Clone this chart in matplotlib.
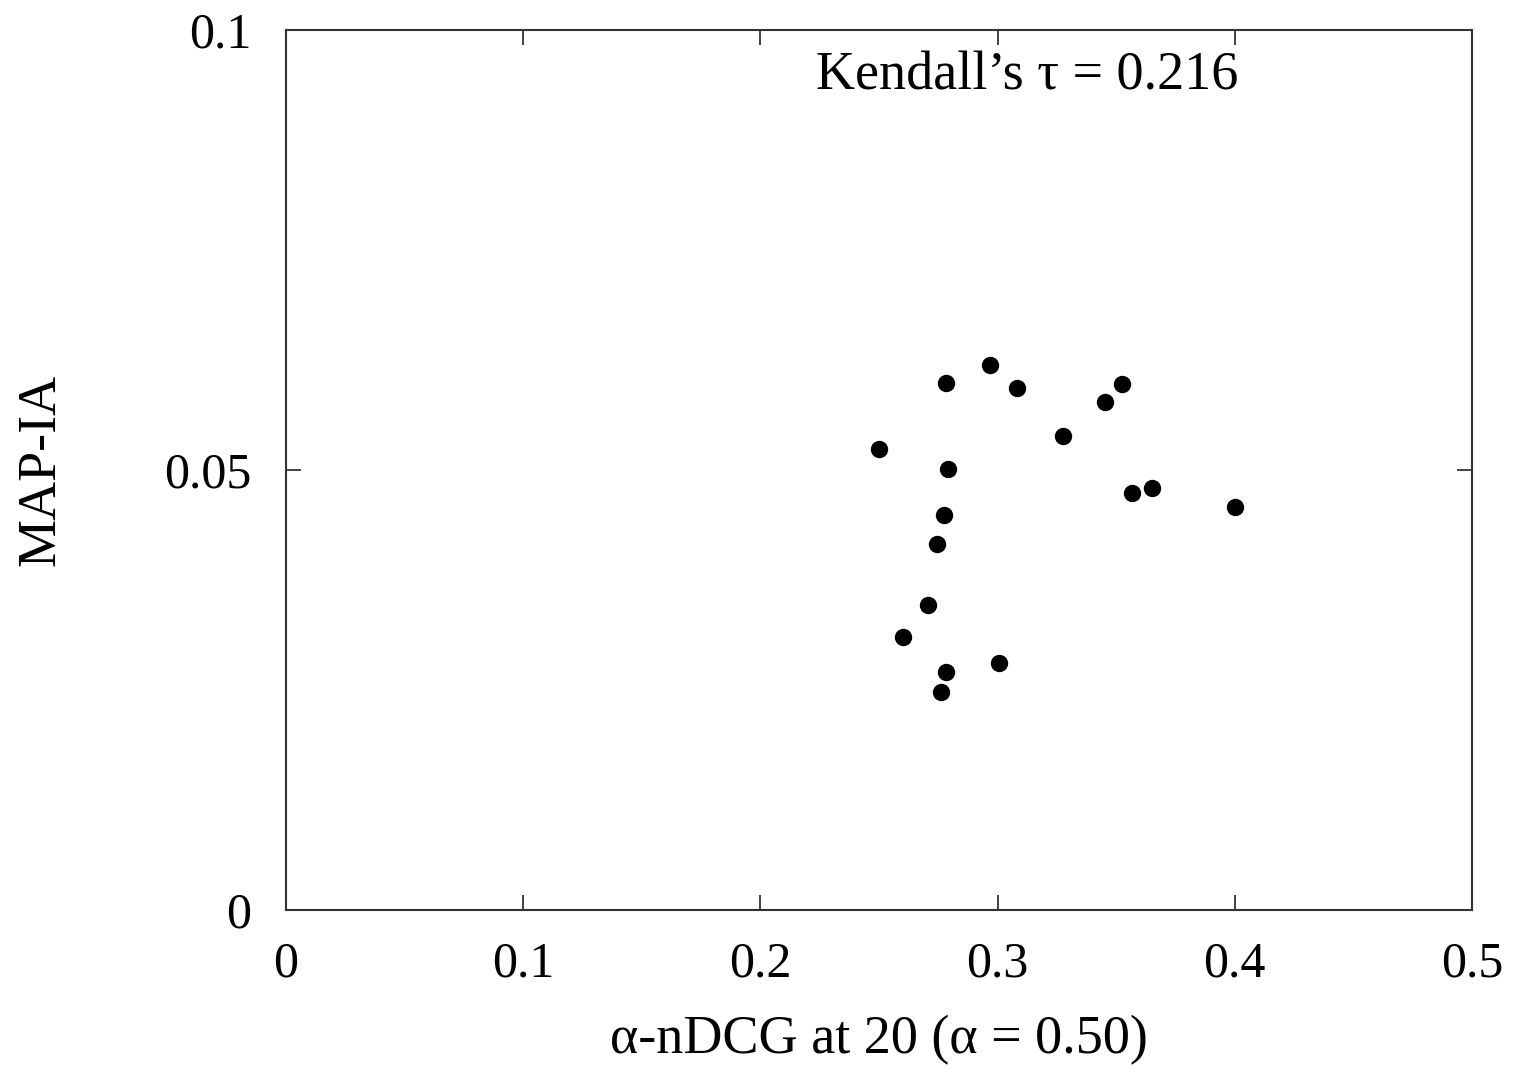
import matplotlib
matplotlib.use("Agg")
import matplotlib.pyplot as plt

x_vals = [0.250, 0.2782, 0.2968, 0.3082, 0.3453, 0.3524, 0.3276, 0.2791, 0.3567,
          0.3651, 0.4001, 0.2774, 0.2745, 0.2707, 0.2601, 0.2782, 0.3006, 0.2761]
y_vals = [0.0524, 0.0599, 0.0619, 0.0593, 0.0577, 0.0598, 0.0539, 0.0501, 0.0474,
          0.0480, 0.0458, 0.0449, 0.0416, 0.0347, 0.0310, 0.0270, 0.0281, 0.0248]
x_ticks = [0, 0.1, 0.2, 0.3, 0.4, 0.5]
x_tick_labels = ["0", "0.1", "0.2", "0.3", "0.4", "0.5"]
y_ticks = [0, 0.05, 0.1]
y_tick_labels = ["0", "0.05", "0.1"]
annotation = "Kendall\u2019s \u03c4 = 0.216"

plt.rcParams['font.family'] = ['Liberation Serif', 'DejaVu Serif']

fig = plt.figure(figsize=(15.17, 10.68), dpi=100)
ax = fig.add_axes([0.1885, 0.1479, 0.9703 - 0.1885, 0.9719 - 0.1479])

ax.plot(x_vals, y_vals, linestyle='none', marker='o', markersize=11.5, color='black')

ax.set_xlim(0, 0.5)
ax.set_ylim(0, 0.1)
ax.set_xticks(x_ticks)
ax.set_xticklabels(x_tick_labels)
ax.set_yticks(y_ticks)
ax.set_yticklabels(y_tick_labels)
ax.tick_params(direction='in', length=11, width=1.2, top=True, right=True,
               labelsize=36, colors='#222222', labelcolor='black')
ax.tick_params(axis='x', pad=22)
ax.tick_params(axis='y', pad=25)
for s in ax.spines.values():
    s.set_linewidth(1.5)
    s.set_color('#333333')

ax.set_xlabel("\u03b1-nDCG at 20 (\u03b1 = 0.50)", fontsize=39, labelpad=20)
ax.set_ylabel("MAP-IA", fontsize=39, labelpad=70)

ax.text(0.625, 0.948, annotation, transform=ax.transAxes, fontsize=39,
        ha='center', va='center')

fig.savefig("out.png", dpi=100)
